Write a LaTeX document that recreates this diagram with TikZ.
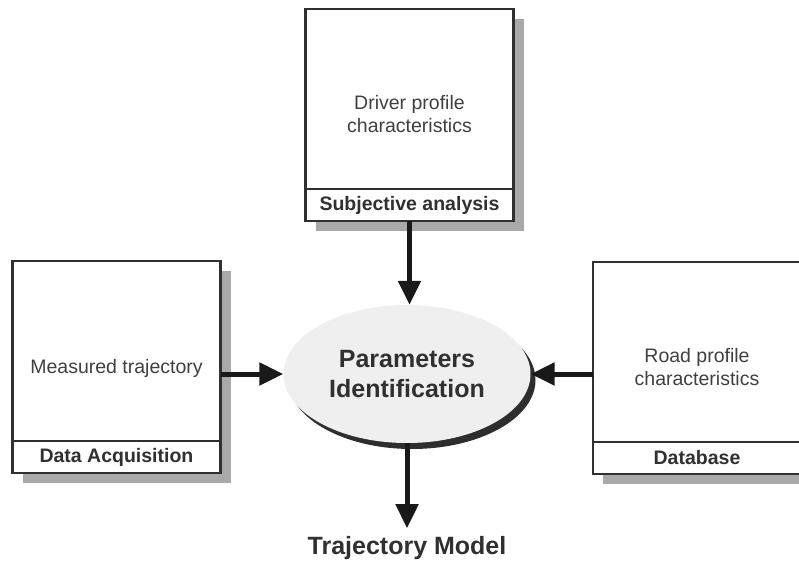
\documentclass[tikz,border=0pt]{standalone}
\usepackage{fontspec}
\setmainfont{Liberation Sans}
\usetikzlibrary{positioning,shadows,shapes.geometric,arrows.meta}
\definecolor{edgegray}{HTML}{303030}
\definecolor{txtgray}{HTML}{404040}
\definecolor{shadegray}{HTML}{A9A9A9}
\definecolor{ellfill}{HTML}{EFEFEF}
\begin{document}
\begin{tikzpicture}[x=1pt, y=1pt, line join=miter,
		panel/.style={draw=edgegray, line width=2.5pt, fill=white, minimum width=208pt, minimum height=180pt, inner sep=0pt, outer sep=0pt,
			drop shadow={shadow xshift=10pt, shadow yshift=-10pt, fill=shadegray, opacity=1}},
		tag/.style={panel, minimum height=32pt, font=\fontsize{19.5}{23}\selectfont\bfseries, text=edgegray},
		body/.style={font=\fontsize{19.5}{23}\selectfont, text=txtgray, align=center},
		flow/.style={line width=5pt, draw=black!90, -{Triangle[width=22pt,length=24pt]}}]
	\useasboundingbox (0,0) rectangle (799,560);
	% sources
	\node[panel] (drv) at (409.5,461) {};
	\node[tag, below=0pt of drv] (subj) {Subjective analysis};
	\node[body] (drvtxt) at ([yshift=-15pt]drv.center) {Driver profile\\characteristics};
	\node[panel] (meas) at (116.5,209) {};
	\node[tag, below=0pt of meas] (acq) {Data Acquisition};
	\node[body] (meastxt) at ([yshift=-17pt]meas.center) {Measured trajectory};
	\node[panel] (road) at (697,208) {};
	\node[tag, below=0pt of road] (dbase) {Database};
	\node[body] (roadtxt) at ([yshift=-15pt]road.center) {Road profile\\characteristics};
	% identification
	\node[ellipse, fill=ellfill, minimum width=247pt, minimum height=138pt, inner sep=0pt,
		drop shadow={shadow xshift=5pt, shadow yshift=-6pt, fill=black!82, opacity=1},
		font=\fontsize{25}{30}\selectfont\bfseries, text=edgegray, align=center] (ident) at (407,186) {Parameters\\Identification};
	\node[below=85pt of ident, inner xsep=0pt, inner ysep=7.5pt, font=\fontsize{25}{30}\selectfont\bfseries, text=edgegray] (model) {Trajectory Model};
	\draw[flow] (subj.south) -- (subj.south |- ident.north);
	\draw[flow] (meas.east |- ident.west) -- (ident.west);
	\draw[flow] (road.west |- ident.east) -- (ident.east);
	\draw[flow] (ident.south) -- (model.north);
\end{tikzpicture}
\end{document}
